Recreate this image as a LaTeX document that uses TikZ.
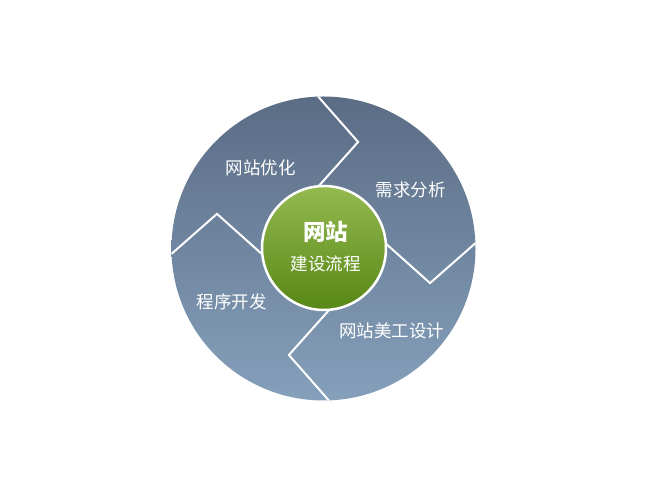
\documentclass[tikz,border=0pt]{standalone}
\usepackage{fontspec}
\newfontfamily\cjk{Noto Sans CJK SC}
\usetikzlibrary{positioning,calc}
\definecolor{slatetop}{HTML}{5B6C85}
\definecolor{slatebot}{HTML}{85A0BB}
\definecolor{greentop}{HTML}{94BA50}
\definecolor{greenbot}{HTML}{578716}

\begin{document}
\begin{tikzpicture}[x=1pt,y=1pt,
						wheel/.style={circle,minimum size=304pt,inner sep=0pt,top color=slatetop,bottom color=slatebot},
						hub/.style={circle,minimum size=124pt,inner sep=0pt,draw=white,line width=2.5pt,top color=greentop,bottom color=greenbot},
						sep/.style={draw=white,line width=2pt},
						phase/.style={text=white,font=\cjk\fontsize{17.5}{17.5}\selectfont,inner sep=0pt},
						title/.style={text=white,font=\cjk\bfseries\fontsize{22.5}{22.5}\selectfont,inner sep=0pt}]
		\useasboundingbox (0,0) rectangle (651,500);
		\node[wheel]								(wheel)	at (323.5,251.5)	{};
		\foreach \a in {92,2,-88,182}
			\draw[sep] ($(wheel.center)+(\a:152)$) -- ($(wheel.center)+(\a-20:112)$) -- ($(wheel.center)+(\a+3:62)$);
		\node[hub]									(hub)	at (324,252)		{};

		\node[title]								(site)	at (325.5,268)		{网站};
		\node[phase,node distance=13pt,below=of site]	(flow)	{建设流程};

		\node[phase]								(opt)	at (260.5,332)		{网站优化};
		\node[phase]								(need)	at (410.5,310)		{需求分析};
		\node[phase]								(dev)	at (231.5,198)		{程序开发};
		\node[phase]								(art)	at (391.5,169.5)	{网站美工设计};
	\end{tikzpicture}
\end{document}
